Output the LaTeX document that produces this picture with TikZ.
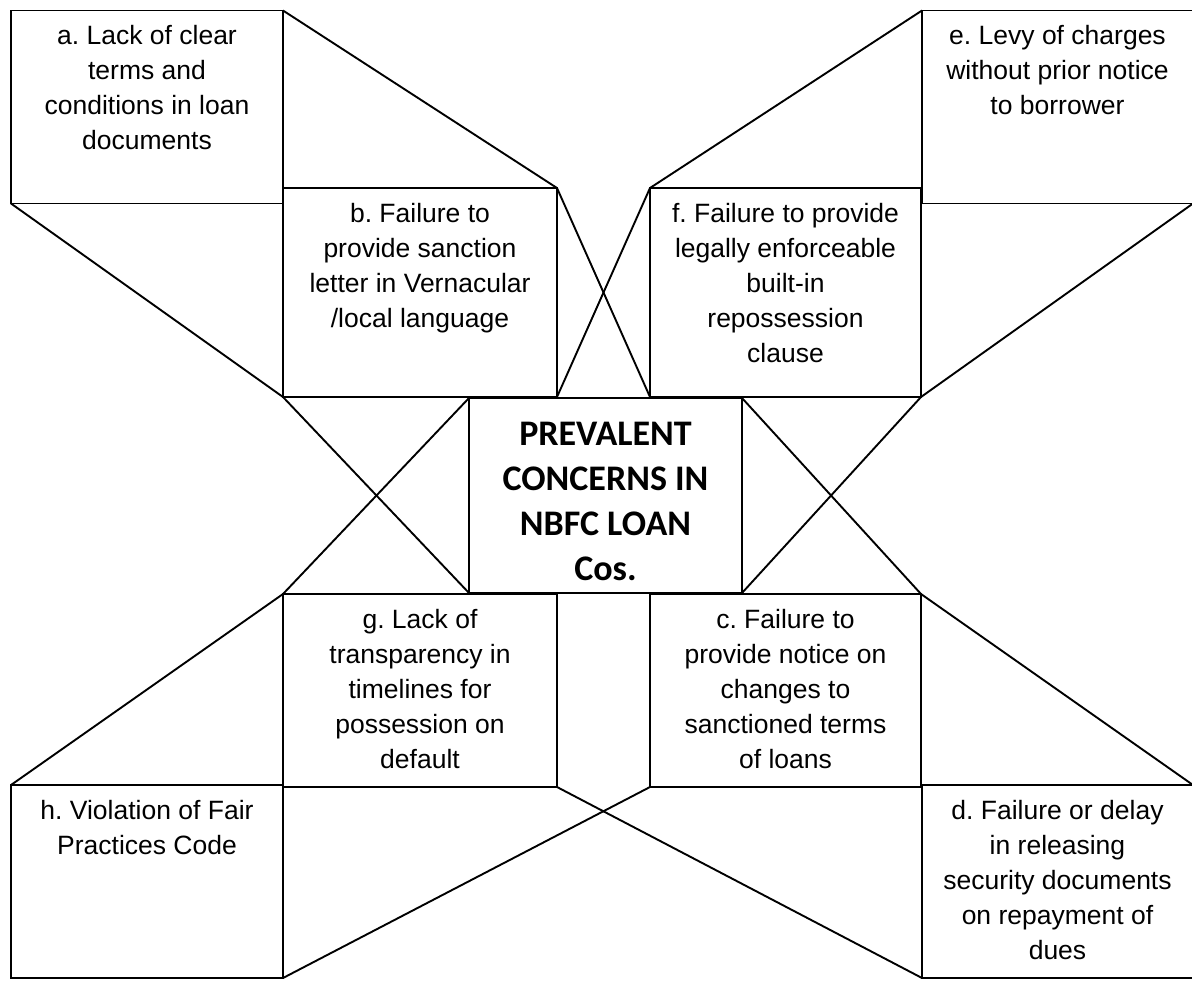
\documentclass[tikz,border=0pt]{standalone}
\usepackage{fontspec}
\setmainfont{Liberation Sans}
\newfontfamily\hubfont{Carlito}
\usetikzlibrary{positioning}
\frenchspacing

\begin{document}
\begin{tikzpicture}[x=1pt,y=-1pt,
	box/.style={draw,rectangle,line width=1.9pt,inner sep=0pt,outer sep=0pt,minimum width=272pt,minimum height=193pt},
	tall/.style={box,minimum height=209pt},
	txt/.style={align=center,inner sep=0pt,font=\fontsize{26.5}{35}\selectfont},
	hubtxt/.style={align=center,inner sep=0pt,font=\hubfont\bfseries\fontsize{36}{45}\selectfont},
	link/.style={line width=1.9pt}]
			\useasboundingbox (0,0) rectangle (1192,988);
			
			\node[box] (a) at (147,107) {};
			\node[tall,minimum width=274pt] (b) at (420,292.5) {};
			\node[tall,minimum width=271pt] (f) at (785.5,292.5) {};
			\node[box,minimum width=271pt] (e) at (1057.5,107) {};
			
			\node[box,minimum width=273pt,minimum height=195pt] (hub) at (605.5,495.5) {};
			
			\node[box,minimum width=274pt] (g) at (420,690.5) {};
			\node[box,minimum width=271pt] (c) at (785.5,690.5) {};
			\node[box] (h) at (147,881.5) {};
			\node[box,minimum width=271pt] (d) at (1057.5,881.5) {};
			
			\node[txt,below=15pt of a.north] (atxt) {a. Lack of clear\\terms and\\conditions in loan\\documents};
			\node[txt,below=15pt of b.north] (btxt) {b. Failure to\\provide sanction\\letter in Vernacular\\/local language};
			\node[txt,below=15pt of f.north] (ftxt) {f. Failure to provide\\legally enforceable\\built-in\\repossession\\clause};
			\node[txt,below=15pt of e.north] (etxt) {e. Levy of charges\\without prior notice\\to borrower};
			\node[txt,below=15pt of g.north] (gtxt) {g. Lack of\\transparency in\\timelines for\\possession on\\default};
			\node[txt,below=15pt of c.north] (ctxt) {c. Failure to\\provide notice on\\changes to\\sanctioned terms\\of loans};
			\node[txt,below=15pt of h.north] (htxt) {h. Violation of Fair\\Practices Code};
			\node[txt,below=15pt of d.north] (dtxt) {d. Failure or delay\\in releasing\\security documents\\on repayment of\\dues};
			\node[hubtxt] (hubt) at ([yshift=-5.5pt]hub.center) {PREVALENT\\CONCERNS IN\\NBFC LOAN\\Cos.};
			
			\draw[link] (a.north east) -- (b.north east);
			\draw[link] (a.south west) -- (b.south west);
			\draw[link] (b.north east) -- (f.south west);
			\draw[link] (b.south east) -- (f.north west);
			\draw[link] (f.north west) -- (e.north west);
			\draw[link] (f.south east) -- (e.south east);
			
			\draw[link] (b.south west) -- (hub.south west);
			\draw[link] (hub.north west) -- (g.north west);
			\draw[link] (hub.north east) -- (c.north east);
			\draw[link] (hub.south east) -- (f.south east);
			
			\draw[link] (g.north west) -- (h.north west);
			\draw[link] (c.north east) -- (d.north east);
			\draw[link] (g.south east) -- (d.south west);
			\draw[link] (c.south west) -- (h.south east);
			\end{tikzpicture}
\end{document}
